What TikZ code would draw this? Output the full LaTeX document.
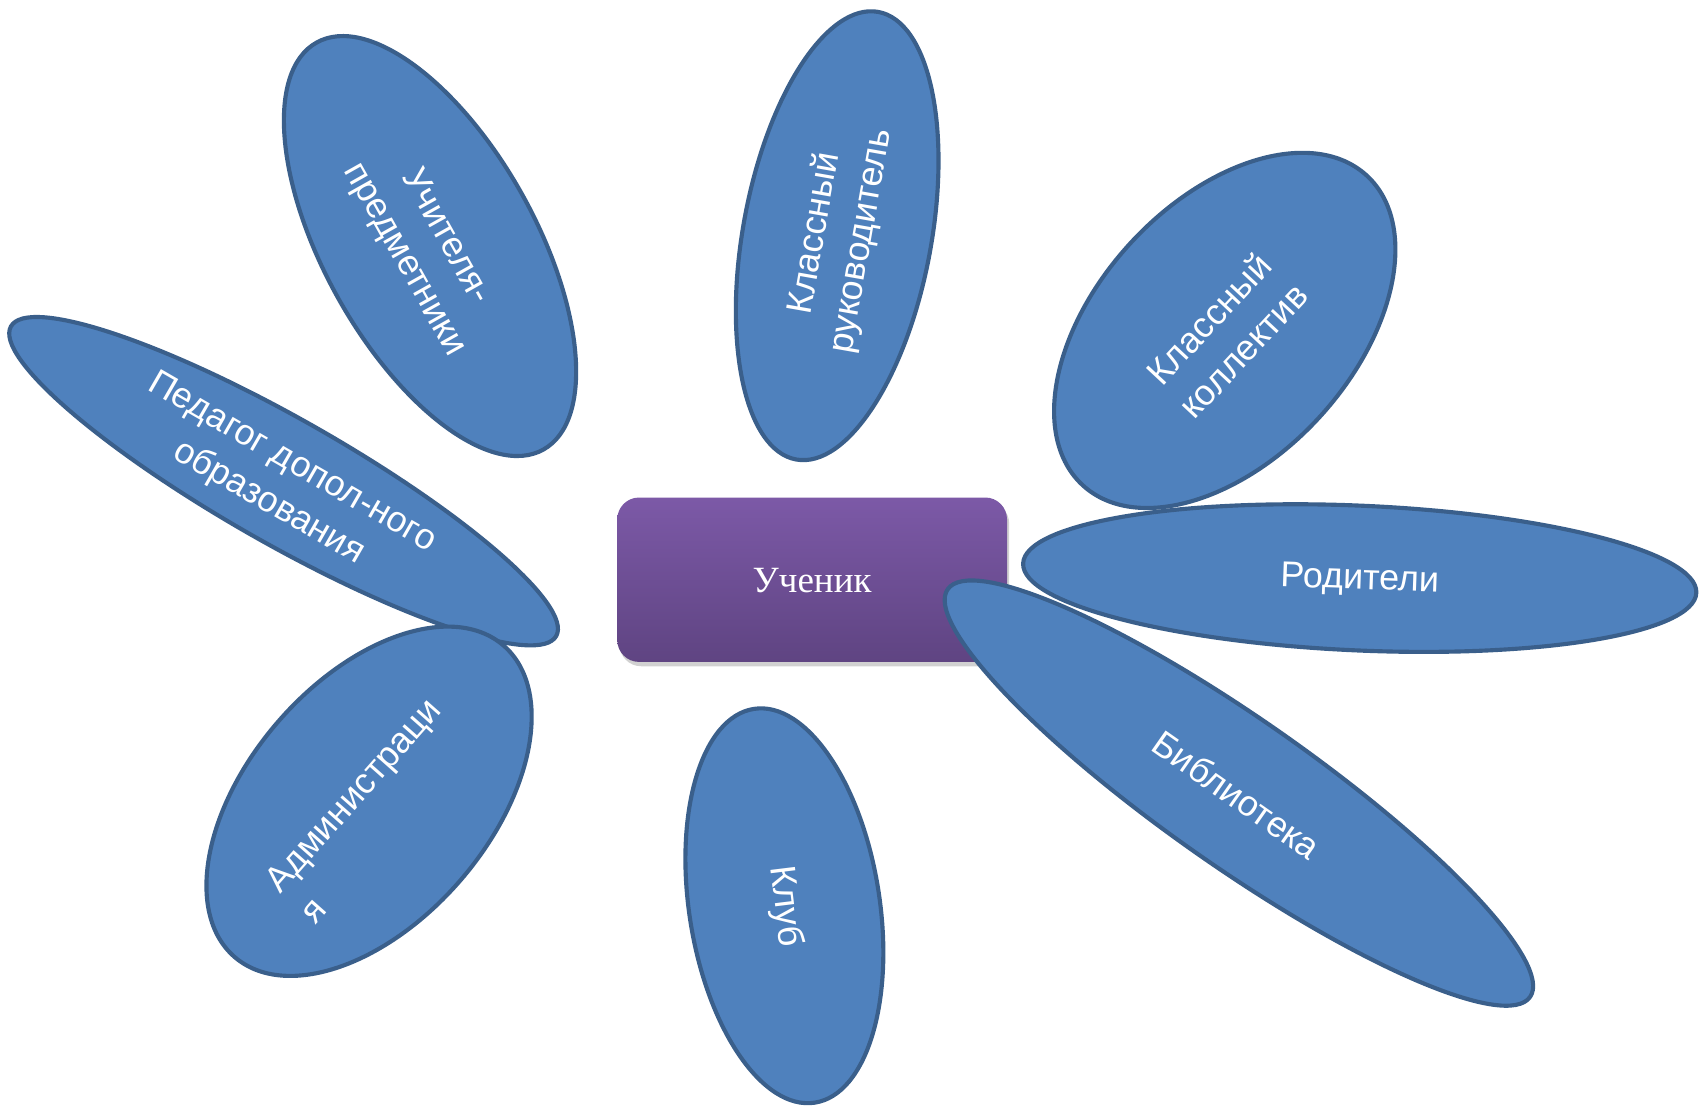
\documentclass[tikz,border=0pt]{standalone}
\usepackage{fontspec}
\setmainfont{Liberation Sans}
\newfontfamily\serifru{Liberation Serif}
\usetikzlibrary{shapes.geometric,shadows}
\definecolor{petalfill}{HTML}{4F81BD}
\definecolor{petaledge}{HTML}{3A5F8B}
\definecolor{boxtop}{HTML}{7C59A7}
\definecolor{boxbot}{HTML}{5F4482}
\tikzset{
  petal/.style={ellipse, draw=petaledge, fill=petalfill, line width=3.8pt, inner sep=0pt, outer sep=0pt},
  ptext/.style={text=white, align=center, inner sep=0pt, font={\fontsize{33}{43}\selectfont}},
  centerbox/.style={rounded corners=20pt, top color=boxtop, bottom color=boxbot, draw=none,
    minimum width=358pt, minimum height=151pt, inner sep=0pt,
    drop shadow={opacity=0.3, shadow xshift=2pt, shadow yshift=-4pt, fill=black!60}},
}
\begin{document}
\begin{tikzpicture}[x=1pt,y=-1pt]
\path[use as bounding box] (0,0) rectangle (1568,1017);
% central box
\node[centerbox] (uchenik) at (746,532.5) {};
\node[text=white, inner sep=0pt, font={\serifru\fontsize{34}{40}\selectfont}] (uchenikt) at (746,533) {Ученик};
% petals
\node[petal, minimum width=428pt, minimum height=194pt, rotate=-60.9] (uch) at (395,226) {};
\node[ptext, rotate=-60.7] (ucht) at (390,228) {Учителя-\\предметники};
\node[petal, minimum width=418pt, minimum height=173pt, rotate=79.6] (ruk) at (769,216.5) {};
\node[ptext, rotate=80] (rukt) at (770,218) {Классный\\руководитель};
\node[petal, minimum width=386pt, minimum height=236pt, rotate=47.5] (kol) at (1125,303.5) {};
\node[ptext, rotate=47] (kolt) at (1126,307) {Классный\\коллектив};
\node[petal, minimum width=619pt, minimum height=133pt, rotate=-2.5] (rod) at (1249,531) {};
\node[ptext, rotate=-2] (rodt) at (1249,533) {Родители};
\node[petal, minimum width=576pt, minimum height=115pt, rotate=-29.6] (ped) at (260.5,442) {};
\node[ptext, rotate=-30] (pedt) at (257.5,444) {Педагог допол-ного\\образования};
\node[petal, minimum width=378pt, minimum height=222pt, rotate=49.2] (adm) at (339,736) {};
\node[ptext, align=left, rotate=48.5] (admt) at (340,744) {Администраци\\я};
\node[petal, minimum width=366pt, minimum height=175pt, rotate=-81.2] (klub) at (720.5,832) {};
\node[ptext, rotate=-83] (klubt) at (721,833) {Клуб};
\node[petal, minimum width=653pt, minimum height=135pt, rotate=-35] (bib) at (1138,728.5) {};
\node[ptext, rotate=-35] (bibt) at (1136,730) {Библиотека};
\end{tikzpicture}
\end{document}
